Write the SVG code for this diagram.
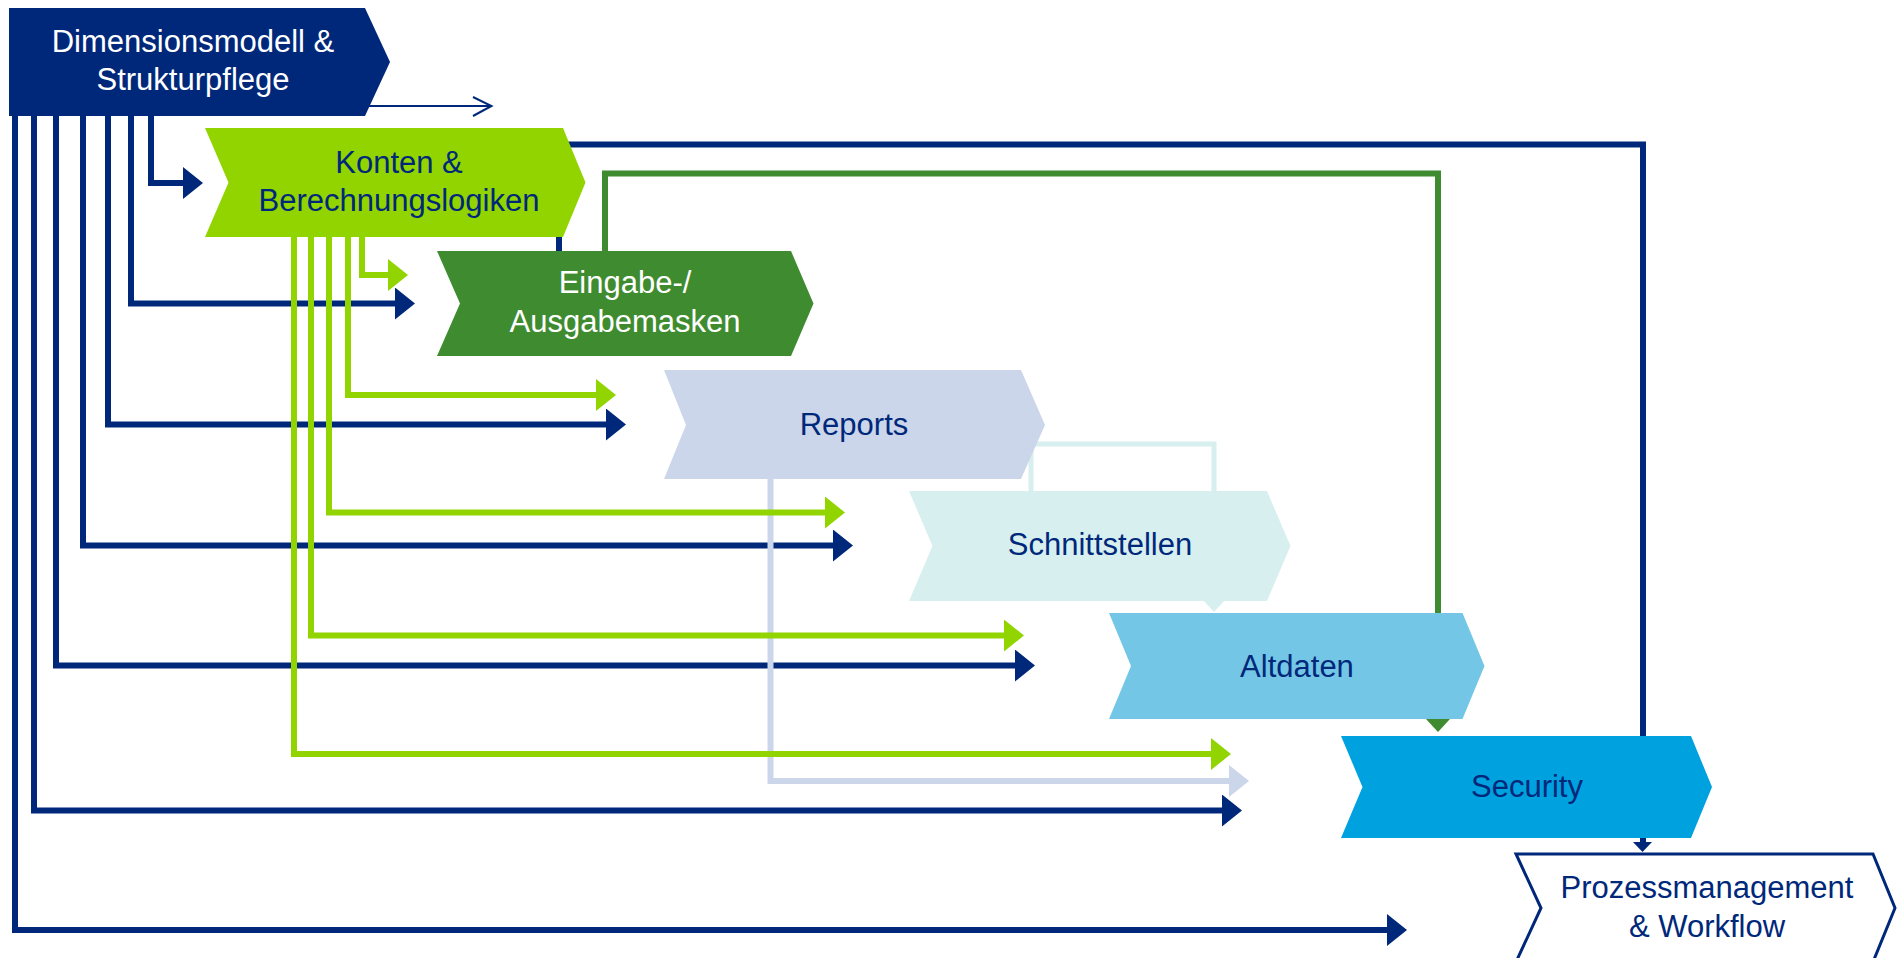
<svg xmlns="http://www.w3.org/2000/svg" width="1904" height="958" viewBox="0 0 1904 958">
<style>
  .t { font-family: "Liberation Sans", Arial, sans-serif; font-size: 31px; text-anchor: middle; }
  .w { fill: #ffffff; }
  .n { fill: #00287a; }
  .ln { fill: none; stroke-width: 6; stroke-linejoin: miter; }
  .navy { stroke: #00287a; }
  .lime { stroke: #92d400; }
  .lav { stroke: #cbd6eb; }
  .grn { stroke: #3f8b30; }
  .cyan { stroke: #d8eff0; stroke-width: 5; }
</style>
<defs>
  <marker id="hNavy" markerUnits="userSpaceOnUse" markerWidth="20" markerHeight="32" viewBox="0 0 20 32" refX="0" refY="16" orient="auto"><path d="M0,0 L20,16 L0,32 Z" fill="#00287a"/></marker>
  <marker id="hLime" markerUnits="userSpaceOnUse" markerWidth="20" markerHeight="32" viewBox="0 0 20 32" refX="0" refY="16" orient="auto"><path d="M0,0 L20,16 L0,32 Z" fill="#92d400"/></marker>
  <marker id="hLav" markerUnits="userSpaceOnUse" markerWidth="20" markerHeight="32" viewBox="0 0 20 32" refX="0" refY="16" orient="auto"><path d="M0,0 L20,16 L0,32 Z" fill="#cbd6eb"/></marker>
</defs>
<rect width="1904" height="958" fill="#ffffff"/>
<g id="connectors">
  <path class="ln cyan" d="M1031,500 V444 H1214 V601"/>
  <polygon points="1203,600 1225,600 1214,612" fill="#d8eff0"/>
  <path class="ln navy" d="M559,260 V144.5 H1643 V842"/>
  <polygon points="1633,842 1652,842 1642.5,852" fill="#00287a"/>
  <path class="ln grn" d="M605,260 V173.5 H1438 V719"/>
  <polygon points="1426,719 1450,719 1438,732" fill="#3f8b30"/>
  <path class="ln navy" d="M369,106 H491" style="stroke-width:2"/>
  <polyline points="473,97 491.5,106 473,116" fill="none" stroke="#00287a" stroke-width="2"/>
  <path class="ln navy" marker-end="url(#hNavy)" d="M151,116 V183 H183"/>
  <path class="ln navy" marker-end="url(#hNavy)" d="M131,116 V303.5 H395"/>
  <path class="ln navy" marker-end="url(#hNavy)" d="M108,116 V424.5 H606"/>
  <path class="ln navy" marker-end="url(#hNavy)" d="M83,116 V545.5 H833"/>
  <path class="ln navy" marker-end="url(#hNavy)" d="M56,116 V665.5 H1015"/>
  <path class="ln navy" marker-end="url(#hNavy)" d="M34,116 V810.5 H1222"/>
  <path class="ln navy" marker-end="url(#hNavy)" d="M15,116 V930 H1387"/>
  <path class="ln lav" marker-end="url(#hLav)" d="M770.5,479 V781 H1229"/>
  <path class="ln lime" marker-end="url(#hLime)" d="M362,237 V275 H388"/>
  <path class="ln lime" marker-end="url(#hLime)" d="M348,237 V395 H596"/>
  <path class="ln lime" marker-end="url(#hLime)" d="M329,237 V512.5 H825"/>
  <path class="ln lime" marker-end="url(#hLime)" d="M311,237 V635.5 H1004"/>
  <path class="ln lime" marker-end="url(#hLime)" d="M294,237 V754 H1211"/>
</g>
<g id="node-dimensionsmodell">
  <polygon points="9,8 365,8 390,62 365,116 9,116" fill="#00287a"/>
  <text class="t w" x="193" y="52">Dimensionsmodell &amp;</text>
  <text class="t w" x="193" y="90">Strukturpflege</text>
</g>
<g id="node-konten">
  <polygon points="205,128 563,128 585.5,182.5 563,237 205,237 228.5,182.5" fill="#92d400"/>
  <text class="t n" x="399" y="173">Konten &amp;</text>
  <text class="t n" x="399" y="211">Berechnungslogiken</text>
</g>
<g id="node-eingabe">
  <polygon points="437,251 791,251 813.5,303.5 791,356 437,356 460,303.5" fill="#3f8b30"/>
  <text class="t w" x="625" y="293">Eingabe-/</text>
  <text class="t w" x="625" y="332">Ausgabemasken</text>
</g>
<g id="node-reports">
  <polygon points="664,370 1021,370 1045,425 1021,479 664,479 686,425" fill="#cbd6eb"/>
  <text class="t n" x="854" y="435">Reports</text>
</g>
<g id="node-schnittstellen">
  <polygon points="909,491 1267,491 1290.5,546 1267,601 909,601 932.5,546" fill="#d8eff0"/>
  <text class="t n" x="1100" y="555">Schnittstellen</text>
</g>
<g id="node-altdaten">
  <polygon points="1109,613 1462.5,613 1484.5,666 1462.5,719 1109,719 1131,666" fill="#74c6e6"/>
  <text class="t n" x="1297" y="677">Altdaten</text>
</g>
<g id="node-security">
  <polygon points="1341,736 1691,736 1712,787 1691,838 1341,838 1362.5,787" fill="#00a1df"/>
  <text class="t n" x="1527" y="797">Security</text>
</g>
<g id="node-prozess">
  <polygon points="1516,854 1873,854 1895,908 1873,962 1516,962 1541,908" fill="#ffffff" stroke="#00287a" stroke-width="3"/>
  <text class="t n" x="1707" y="898">Prozessmanagement</text>
  <text class="t n" x="1707" y="937">&amp; Workflow</text>
</g>
</svg>
